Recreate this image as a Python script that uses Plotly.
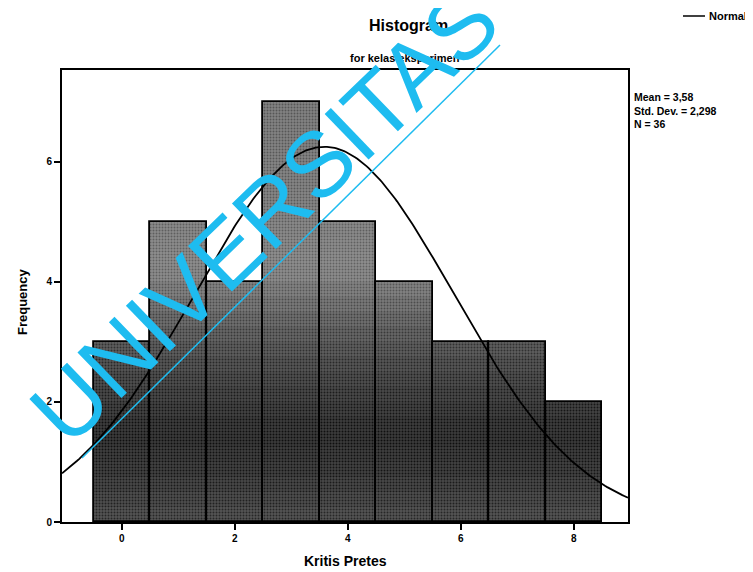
import numpy as np
import plotly.graph_objects as go

# ---- data ----
bin_centers = [0, 1, 2, 3, 4, 5, 6, 7, 8]
frequencies = [3, 5, 4, 7, 5, 4, 3, 3, 2]
x_ticks = [0, 2, 4, 6, 8]
y_ticks = [0, 2, 4, 6]
stat_lines = ["Mean = 3,58", "Std. Dev. = 2,298", "N = 36"]
title_text = "Histogram"
subtitle_text = "for kelas eksperimen"
x_title = "Kritis Pretes"
y_title = "Frequency"
legend_text = "Normal"
watermark_text = "UNIVERSITAS"

# ---- layout geometry (window pixels; page body has an 8px margin) ----
OFF = 8
W, H = 753 - OFF, 572 - OFF
L, R, T, B = 62, 628, 70, 522          # plot frame in window pixels
def px(x):
    return (x - L) / (R - L)
def py(y):
    return (B - y) / (B - T)

FONT = "Liberation Sans, Arial, sans-serif"

fig = go.Figure()

# gradient bands inside bars (dark bottom -> lighter top)
stops_y = [0.0, 0.8, 1.5, 2.5, 3.3, 4.2, 5.5, 7.5]
stops_g = [88, 68, 58, 82, 108, 145, 135, 130]
band = 0.25
edges = np.arange(0, 7.5 + band, band)
freq = np.array(frequencies, dtype=float)
for b0, b1 in zip(edges[:-1], edges[1:]):
    h = np.clip(np.minimum(freq, b1) - b0, 0, None)
    if h.sum() == 0:
        continue
    g = int(np.interp((b0 + b1) / 2, stops_y, stops_g))
    col = f"rgb({g},{g},{g})"
    f = max(g - 45, 15)
    fg = f"rgb({f},{f},{f})"
    fig.add_trace(go.Bar(
        x=bin_centers, y=h, base=[b0] * len(h), width=1.0,
        marker=dict(color=col, line=dict(width=0),
                    pattern=dict(shape=".", bgcolor=col, fgcolor=fg,
                                 size=3, solidity=0.35, fillmode="replace")),
        hoverinfo="skip", showlegend=False))

# bar outlines
fig.add_trace(go.Bar(
    x=bin_centers, y=frequencies, width=1.0,
    marker=dict(color="rgba(0,0,0,0)", line=dict(color="black", width=1.8)),
    showlegend=False))

# fitted normal curve
n = freq.sum()
mean = (np.array(bin_centers) * freq).sum() / n
sd = np.sqrt(((np.array(bin_centers) - mean) ** 2 * freq).sum() / (n - 1))
xc = np.linspace(-1.06, 8.96, 300)
yc = n * 1.0 / (sd * np.sqrt(2 * np.pi)) * np.exp(-0.5 * ((xc - mean) / sd) ** 2)
fig.add_trace(go.Scatter(x=xc, y=yc, mode="lines",
                         line=dict(color="black", width=1.8), showlegend=False))

fig.update_layout(
    width=W, height=H,
    margin=dict(l=L - OFF, r=753 - R, t=T - OFF, b=572 - B),
    paper_bgcolor="white", plot_bgcolor="white",
    barmode="overlay", bargap=0,
    font=dict(family=FONT, color="black"),
    showlegend=False,
)
fig.update_xaxes(range=[-1.06, 8.96], tickvals=x_ticks, ticktext=[str(v) for v in x_ticks],
                 showgrid=False, zeroline=False, showline=True, mirror=True,
                 linecolor="black", linewidth=1.8, ticks="outside", ticklen=6,
                 tickcolor="black", tickwidth=1.5,
                 tickfont=dict(size=10, family=FONT, weight="bold"))
fig.update_yaxes(range=[0, 7.53], tickvals=y_ticks, ticktext=[str(v) for v in y_ticks],
                 showgrid=False, zeroline=False, showline=True, mirror=True,
                 linecolor="black", linewidth=1.8, ticks="outside", ticklen=6,
                 tickcolor="black", tickwidth=1.5,
                 tickfont=dict(size=10, family=FONT, weight="bold"))

ann = []
ann.append(dict(text=title_text, x=px(408), y=py(25), xref="paper", yref="paper",
                showarrow=False, xanchor="center", yanchor="middle",
                font=dict(size=16, family=FONT, weight="bold")))
ann.append(dict(text=subtitle_text, x=px(405), y=py(58), xref="paper", yref="paper",
                showarrow=False, xanchor="center", yanchor="middle",
                font=dict(size=11, family=FONT, weight="bold")))
ann.append(dict(text=x_title, x=px(345), y=py(561), xref="paper", yref="paper",
                showarrow=False, xanchor="center", yanchor="middle",
                font=dict(size=14, family=FONT, weight="bold")))
ann.append(dict(text=y_title, x=px(22), y=py(302), xref="paper", yref="paper",
                showarrow=False, xanchor="center", yanchor="middle", textangle=-90,
                font=dict(size=13, family=FONT, weight="bold")))
ann.append(dict(text="<br>".join(stat_lines), x=px(632), y=py(89),
                xref="paper", yref="paper", showarrow=False,
                xanchor="left", yanchor="top", align="left",
                font=dict(size=10.5, family=FONT, weight="bold")))
ann.append(dict(text=legend_text, x=px(707), y=py(16), xref="paper", yref="paper",
                showarrow=False, xanchor="left", yanchor="middle",
                font=dict(size=11, family=FONT, weight="bold")))
# watermark
ann.append(dict(text=watermark_text, x=px(264), y=py(216), xref="paper", yref="paper",
                showarrow=False, xanchor="center", yanchor="middle", textangle=-44,
                font=dict(size=92, family=FONT, color="#1ebcf0")))
fig.update_layout(annotations=ann)

fig.add_shape(type="line", xref="paper", yref="paper",
              x0=px(683), x1=px(705), y0=py(16), y1=py(16),
              line=dict(color="black", width=1.5))
fig.add_shape(type="line", xref="paper", yref="paper",
              x0=px(82), y0=py(458), x1=px(500), y1=py(45),
              line=dict(color="#1ebcf0", width=1.5))

fig.write_html("out.html")
